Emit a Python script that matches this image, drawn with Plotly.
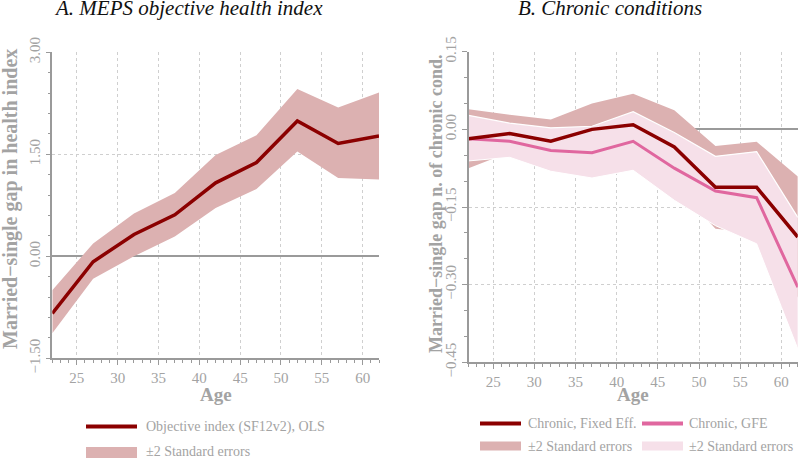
import plotly.graph_objects as go

W, H = 800, 458

# ---------------- data ----------------
ages = [22, 27, 32, 37, 42, 47, 52, 57, 62]

# Panel A: objective health index (OLS)
a_est = [-0.84, -0.08, 0.32, 0.61, 1.08, 1.38, 1.99, 1.66, 1.77]
a_lo = [-1.13, -0.33, 0.00, 0.29, 0.71, 0.99, 1.54, 1.15, 1.13]
a_hi = [-0.50, 0.19, 0.63, 0.93, 1.49, 1.78, 2.46, 2.19, 2.41]

# Panel B: chronic conditions
fe_est = [-0.018, -0.008, -0.023, 0.000, 0.009, -0.034, -0.112, -0.112, -0.208]
fe_lo = [-0.075, -0.044, -0.065, -0.050, -0.051, -0.105, -0.192, -0.200, -0.325]
fe_hi = [0.039, 0.028, 0.019, 0.050, 0.069, 0.037, -0.032, -0.024, -0.091]
gfe_est = [-0.018, -0.023, -0.041, -0.045, -0.023, -0.075, -0.119, -0.132, -0.305]
gfe_lo = [-0.061, -0.054, -0.081, -0.094, -0.079, -0.137, -0.186, -0.221, -0.424]
gfe_hi = [0.027, 0.012, 0.003, 0.006, 0.034, -0.006, -0.052, -0.043, -0.170]

title_a = "A. MEPS objective health index"
title_b = "B. Chronic conditions"
ytitle_a = "Married\u2212single gap in health index"
ytitle_b = "Married\u2212single gap n. of chronic cond."
xtitle = "Age"
leg_a = ["Objective index (SF12v2), OLS", "\u00b12 Standard errors"]
leg_b = ["Chronic, Fixed Eff.", "Chronic, GFE", "\u00b12 Standard errors", "\u00b12 Standard errors"]

# ---------------- styles ----------------
DARK = "#8b0000"
DARK_BAND = "#dcb1b1"
PINK = "#e0679f"
PINK_BAND = "#f6e0e9"
GREY = "#a3a3a3"
AXGREY = "#9a9a9a"
SERIF = "Liberation Serif"


def px(x):
    return x / W


def py(y):
    return 1 - y / H


fig = go.Figure()

# Panel A band
fig.add_trace(go.Scatter(x=ages, y=a_lo, mode="lines", line=dict(width=0),
                         showlegend=False, hoverinfo="skip", xaxis="x", yaxis="y"))
fig.add_trace(go.Scatter(x=ages, y=a_hi, mode="lines", line=dict(width=0),
                         fill="tonexty", fillcolor=DARK_BAND,
                         showlegend=False, hoverinfo="skip", xaxis="x", yaxis="y"))
fig.add_trace(go.Scatter(x=ages, y=a_est, mode="lines", line=dict(color=DARK, width=3.5),
                         showlegend=False, xaxis="x", yaxis="y"))

# Panel B bands
fig.add_trace(go.Scatter(x=ages, y=fe_lo, mode="lines", line=dict(width=0),
                         showlegend=False, hoverinfo="skip", xaxis="x2", yaxis="y2"))
fig.add_trace(go.Scatter(x=ages, y=fe_hi, mode="lines", line=dict(width=0),
                         fill="tonexty", fillcolor=DARK_BAND,
                         showlegend=False, hoverinfo="skip", xaxis="x2", yaxis="y2"))
fig.add_trace(go.Scatter(x=ages, y=gfe_lo, mode="lines", line=dict(width=1, color="white"),
                         showlegend=False, hoverinfo="skip", xaxis="x2", yaxis="y2"))
fig.add_trace(go.Scatter(x=ages, y=gfe_hi, mode="lines", line=dict(width=1.2, color="white"),
                         fill="tonexty", fillcolor=PINK_BAND,
                         showlegend=False, hoverinfo="skip", xaxis="x2", yaxis="y2"))
fig.add_trace(go.Scatter(x=ages, y=gfe_est, mode="lines", line=dict(color=PINK, width=3),
                         showlegend=False, xaxis="x2", yaxis="y2"))
fig.add_trace(go.Scatter(x=ages, y=fe_est, mode="lines", line=dict(color=DARK, width=3.5),
                         showlegend=False, xaxis="x2", yaxis="y2"))

tickfont = dict(family=SERIF, size=15, color=GREY)


def xaxis_cfg(dom, anchor):
    return dict(domain=dom, anchor=anchor, range=[22, 62], tick0=0, dtick=5,
                automargin=False,
                showgrid=True, gridcolor="#cfcfcf", griddash="dot", gridwidth=1,
                zeroline=False, showline=True, linecolor=AXGREY, linewidth=1.5,
                ticks="outside", ticklen=5, tickcolor=AXGREY, tickwidth=1,
                tickfont=tickfont,
                minor=dict(dtick=1, ticks="outside", ticklen=3, tickcolor=AXGREY, showgrid=False))


def yaxis_cfg(dom, anchor, rng, dtick, mdtick, fmt):
    return dict(domain=dom, anchor=anchor, range=rng, tick0=0, dtick=dtick,
                automargin=False,
                tickformat=fmt, tickangle=-90,
                showgrid=True, gridcolor="#cfcfcf", griddash="dot", gridwidth=1,
                zeroline=True, zerolinecolor=AXGREY, zerolinewidth=1.5,
                showline=True, linecolor=AXGREY, linewidth=1.5,
                ticks="outside", ticklen=5, tickcolor=AXGREY, tickwidth=1,
                tickfont=tickfont,
                minor=dict(dtick=mdtick, tick0=0, ticks="outside", ticklen=3,
                           tickcolor=AXGREY, showgrid=False))


shapes = []
annotations = []

# titles
tfont = dict(family=SERIF, size=21, color="#111111", style="italic")
annotations.append(dict(x=px(188), y=py(8), xref="paper", yref="paper", text=title_a,
                        showarrow=False, xanchor="center", yanchor="middle", font=tfont))
annotations.append(dict(x=px(610), y=py(8), xref="paper", yref="paper", text=title_b,
                        showarrow=False, xanchor="center", yanchor="middle", font=tfont))

# axis titles
titlefont = dict(family=SERIF, size=19, color=GREY, weight="bold")
annotations.append(dict(x=px(216), y=py(394), xref="paper", yref="paper", text=xtitle,
                        showarrow=False, xanchor="center", yanchor="middle", font=titlefont))
annotations.append(dict(x=px(633), y=py(394), xref="paper", yref="paper", text=xtitle,
                        showarrow=False, xanchor="center", yanchor="middle", font=titlefont))
annotations.append(dict(x=px(11), y=py(199), xref="paper", yref="paper", text=ytitle_a,
                        showarrow=False, textangle=-90, xanchor="center", yanchor="middle",
                        font=dict(family=SERIF, size=20, color=GREY, weight="bold")))
annotations.append(dict(x=px(436), y=py(204), xref="paper", yref="paper", text=ytitle_b,
                        showarrow=False, textangle=-90, xanchor="center", yanchor="middle",
                        font=dict(family=SERIF, size=18, color=GREY, weight="bold")))

legfont = dict(family=SERIF, size=14, color=GREY)


def leg_line(x0, x1, y, color, w):
    shapes.append(dict(type="line", xref="paper", yref="paper", x0=px(x0), x1=px(x1),
                       y0=py(y), y1=py(y), line=dict(color=color, width=w)))


def leg_rect(x0, x1, y0, y1, color):
    shapes.append(dict(type="rect", xref="paper", yref="paper", x0=px(x0), x1=px(x1),
                       y0=py(y1), y1=py(y0), line=dict(width=0), fillcolor=color))


def leg_text(x, y, text):
    annotations.append(dict(x=px(x), y=py(y), xref="paper", yref="paper", text=text,
                            showarrow=False, xanchor="left", yanchor="middle", font=legfont))


# Panel A legend
leg_line(86, 137, 426.5, DARK, 4)
leg_text(144, 426.5, leg_a[0])
leg_rect(86, 137, 447, 458, DARK_BAND)
leg_text(144, 451, leg_a[1])

# Panel B legend
leg_line(480, 521, 423.5, DARK, 4)
leg_text(526, 423.5, leg_b[0])
leg_line(642, 683, 423.5, PINK, 4)
leg_text(687, 423.5, leg_b[1])
leg_rect(480, 521, 441.5, 450.5, DARK_BAND)
leg_text(526, 446, leg_b[2])
leg_rect(642, 683, 441.5, 450.5, PINK_BAND)
leg_text(687, 446, leg_b[3])

fig.update_layout(
    width=W, height=H,
    margin=dict(l=0, r=0, t=0, b=0, autoexpand=False),
    paper_bgcolor="white", plot_bgcolor="white",
    showlegend=False,
    xaxis=xaxis_cfg([px(52.3), px(379)], "y"),
    yaxis=yaxis_cfg([py(358.3), py(52.3)], "x", [-1.5, 3.0], 1.5, 0.3, ".2f"),
    xaxis2=xaxis_cfg([px(468.5), px(797.8)], "y2"),
    yaxis2=yaxis_cfg([py(362.3), py(51.7)], "x2", [-0.45, 0.15], 0.15, 0.05, ".2f"),
    shapes=shapes,
    annotations=annotations,
)

fig.write_html("out.html",
               config={"displayModeBar": False},
               post_script="document.body.style.margin='0';document.body.style.padding='0';")
